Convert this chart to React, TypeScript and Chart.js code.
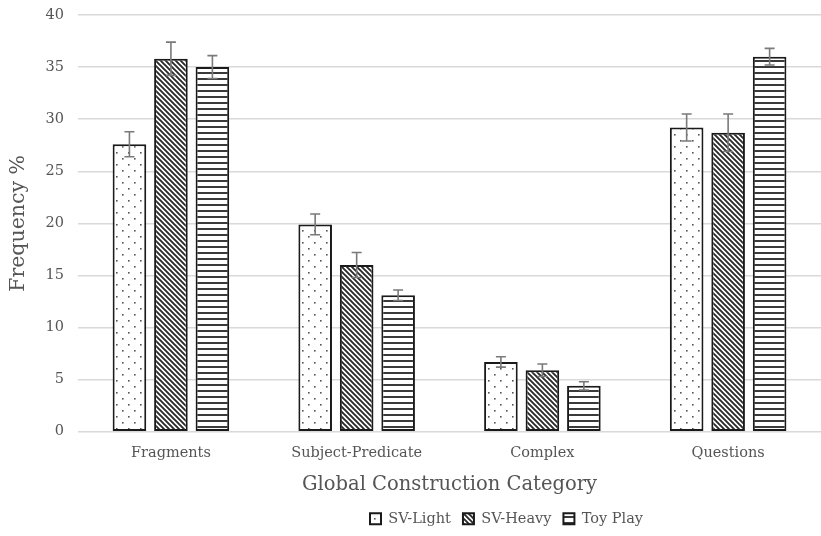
import React, { useEffect, useRef } from "react";
import { Chart, registerables } from "chart.js";

Chart.register(...registerables);

const categories = ["Fragments", "Subject-Predicate", "Complex", "Questions"];
const seriesNames = ["SV-Light", "SV-Heavy", "Toy Play"];
const svLight = [27.6, 19.9, 6.7, 29.2];
const svHeavy = [35.8, 16.0, 5.9, 28.7];
const toyPlay = [35.0, 13.1, 4.4, 36.0];
const svLightErr = [1.2, 1.0, 0.5, 1.3];
const svHeavyErr = [1.6, 1.2, 0.6, 1.8];
const toyPlayErr = [1.1, 0.5, 0.4, 0.8];
const yTicks = [0, 5, 10, 15, 20, 25, 30, 35, 40];

const FONT = "'DejaVu Serif', serif";
const TEXT = "#555555";

function makePattern(kind: string): CanvasPattern | string {
  const c = document.createElement("canvas");
  const ctx = c.getContext("2d");
  if (!ctx) return "#fff";
  if (kind === "dots") {
    c.width = 12;
    c.height = 12;
    ctx.fillStyle = "#fff";
    ctx.fillRect(0, 0, 12, 12);
    ctx.fillStyle = "#555";
    ctx.fillRect(2, 2, 1.6, 1.6);
    ctx.fillRect(8, 8, 1.6, 1.6);
  } else if (kind === "diag") {
    c.width = 5;
    c.height = 5;
    ctx.fillStyle = "#fff";
    ctx.fillRect(0, 0, 5, 5);
    ctx.strokeStyle = "#2a2a2a";
    ctx.lineWidth = 1.9;
    ctx.beginPath();
    ctx.moveTo(-1, -1);
    ctx.lineTo(6, 6);
    ctx.moveTo(-1, 4);
    ctx.lineTo(1, 6);
    ctx.moveTo(4, -1);
    ctx.lineTo(6, 1);
    ctx.stroke();
  } else {
    c.width = 6;
    c.height = 6;
    ctx.fillStyle = "#fff";
    ctx.fillRect(0, 0, 6, 6);
    ctx.fillStyle = "#3a3a3a";
    ctx.fillRect(0, 0, 6, 2);
  }
  return ctx.createPattern(c, "repeat") || "#fff";
}

const errorBarPlugin = {
  id: "errorBars",
  afterLayout(chart: any) {
    const lg = chart.legend;
    if (lg) {
      lg.left += 94;
      lg.right += 94;
    }
  },
  afterDatasetsDraw(chart: any) {
    const ctx = chart.ctx;
    const yScale = chart.scales.y;
    chart.data.datasets.forEach((ds: any, di: number) => {
      const meta = chart.getDatasetMeta(di);
      const errs: number[] = ds.errors || [];
      meta.data.forEach((bar: any, i: number) => {
        const v = ds.data[i];
        const e = errs[i];
        const yTop = yScale.getPixelForValue(v + e);
        const yBot = yScale.getPixelForValue(v - e);
        const x = bar.x;
        ctx.save();
        ctx.strokeStyle = "#7a7a7a";
        ctx.lineWidth = 1.6;
        ctx.beginPath();
        ctx.moveTo(x, yTop);
        ctx.lineTo(x, yBot);
        ctx.moveTo(x - 5, yTop);
        ctx.lineTo(x + 5, yTop);
        ctx.moveTo(x - 5, yBot);
        ctx.lineTo(x + 5, yBot);
        ctx.stroke();
        ctx.restore();
      });
    });
  },
};

export default function App() {
  const ref = useRef<HTMLCanvasElement>(null);
  useEffect(() => {
    document.body.style.margin = "0";
    if (!ref.current) return;
    const patterns = [makePattern("dots"), makePattern("diag"), makePattern("horiz")];
    const values = [svLight, svHeavy, toyPlay];
    const errs = [svLightErr, svHeavyErr, toyPlayErr];
    const chart = new Chart(ref.current, {
      type: "bar",
      data: {
        labels: categories,
        datasets: seriesNames.map((name, i) => ({
          label: name,
          data: values[i],
          errors: errs[i],
          backgroundColor: patterns[i],
          borderColor: "#1a1a1a",
          borderWidth: 2,
          borderSkipped: false,
          categoryPercentage: 0.67,
          barPercentage: 0.81,
        })) as any,
      },
      options: {
        animation: false,
        responsive: false,
        maintainAspectRatio: false,
        layout: { padding: { top: 15, right: 0, left: 4, bottom: 0 } },
        plugins: {
          legend: {
            position: "bottom",
            labels: {
              boxWidth: 11,
              boxHeight: 11,
              padding: 12,
              color: TEXT,
              font: { family: FONT, size: 14.5 },
            },
          },
          tooltip: { enabled: false },
        },
        scales: {
          x: {
            grid: { display: false },
            border: { display: false },
            ticks: { color: TEXT, font: { family: FONT, size: 14.5 }, padding: 5 },
            title: {
              display: true,
              text: "Global Construction Category",
              color: TEXT,
              font: { family: FONT, size: 19.5 },
              padding: { top: 6, bottom: 3 },
            },
          },
          y: {
            min: 0,
            max: 40,
            afterBuildTicks: (axis: any) => {
              axis.ticks = yTicks.map((v) => ({ value: v }));
            },
            grid: {
              color: "#d9d9d9",
              lineWidth: 1.5,
              drawTicks: true,
              tickLength: 12,
              tickColor: "rgba(0,0,0,0)",
            },
            border: { display: false },
            ticks: { color: TEXT, font: { family: FONT, size: 14.5 }, padding: 2 },
            title: {
              display: true,
              text: "Frequency %",
              color: TEXT,
              font: { family: FONT, size: 20.5 },
              padding: { top: 2, bottom: 13 },
            },
          },
        },
      },
      plugins: [errorBarPlugin],
    });
    return () => chart.destroy();
  }, []);
  return (
    <div style={{ width: 821, height: 536 }}>
      <canvas ref={ref} width={821} height={536} style={{ display: "block" }} />
    </div>
  );
}
